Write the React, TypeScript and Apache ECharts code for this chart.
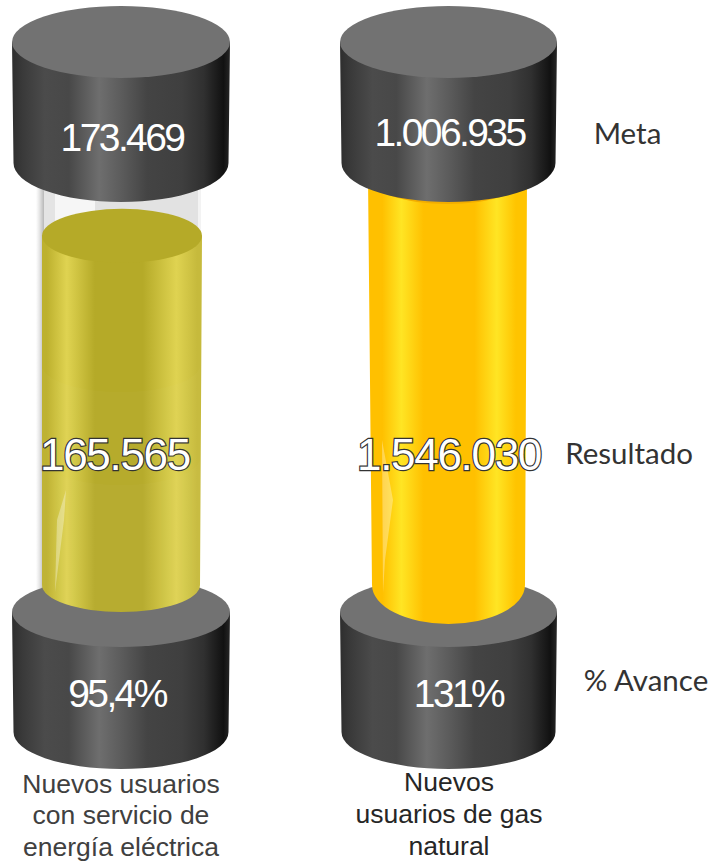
import React, { useEffect, useRef } from "react";
import * as echarts from "echarts";

// ---- data ----
const categories = ["Nuevos usuarios de energía", "Nuevos usuarios de gas"];
const progressPercent = [95.4, 131];
const metaLabels = ["173.469", "1.006.935"];
const resultLabels = ["165.565", "1.546.030"];
const progressLabels = ["95,4%", "131%"];
const nameLines = [
  ["Nuevos usuarios", "con servicio de", "energía eléctrica"],
  ["Nuevos", "usuarios de gas", "natural"],
];
const rowLabels = ["Meta", "Resultado", "% Avance"];

// ---- look ----
const W = 709;
const H = 863;
const looks = [
  {
    fillL: -79, fillR: 81, fillBL: -79, fillBR: 79, fillRy: 27, bottomRy: 27,
    base: "#b5aa28", bright: "#dfd351", topFill: "#b5aa28", edgeL: "#bdb12e", edgeR: "#c6ba3c",
    brightA: 0.155, baseA: 0.33, baseB: 0.63, brightB: 0.84, edgeA: 0.03, edgeB: 0.97,
    glint: [[66, 490], [64, 520], [55, 592], [57, 520]],
    seams: [365, 458],
    metaX: 122, metaY: 137, resX: 115, progX: 117, textCol: "#404040", nameYs: [784, 815, 847],
    capX: 121, capRx: 109,
  },
  {
    fillL: -81, fillR: 78, fillBL: -77, fillBR: 76, fillRy: 27, bottomRy: 39,
    base: "#ffc000", bright: "#ffe524", topFill: "#f2ad00", edgeL: "#ffc000", edgeR: "#ffc400",
    brightA: 0.21, baseA: 0.35, baseB: 0.67, brightB: 0.81, edgeA: 0.09, edgeB: 0.93,
    glint: [[382, 440], [393, 500], [385, 560], [383, 593]],
    seams: [],
    metaX: 449.5, metaY: 132, resX: 449, progX: 458.5, textCol: "#262626", nameYs: [782, 814, 846],
    capX: 448.5, capRx: 108.5,
  },
];

const ell = (cx: number, cy: number, rx: number, ry: number) =>
  `M${cx - rx} ${cy}A${rx} ${ry} 0 1 1 ${cx + rx} ${cy}A${rx} ${ry} 0 1 1 ${cx - rx} ${cy}Z`;

const side = (xl: number, xr: number, yTop: number, xbl: number, xbr: number, yBot: number, ry: number) =>
  `M${xl} ${yTop}L${xbl} ${yBot}A${(xbr - xbl) / 2} ${ry} 0 0 0 ${xbr} ${yBot}L${xr} ${yTop}Z`;

const band = (xl: number, xr: number, yTop: number, yBot: number, ry: number) =>
  `M${xl} ${yTop}A${(xr - xl) / 2} ${ry} 0 0 0 ${xr} ${yTop}L${xr} ${yBot}A${(xr - xl) / 2} ${ry} 0 0 1 ${xl} ${yBot}Z`;

const hGrad = (stops: [number, string][]) => ({
  type: "linear", x: 0, y: 0, x2: 1, y2: 0,
  colorStops: stops.map(([offset, color]) => ({ offset, color })),
});

const capGrad = hGrad([
  [0, "#2e2e2e"], [0.05, "#3a3a3a"], [0.15, "#4b4b4b"], [0.26, "#484848"], [0.4, "#6e6e6e"],
  [0.5, "#5c5c5c"], [0.62, "#444444"], [0.78, "#3f3f3f"], [0.88, "#303030"], [0.97, "#111111"], [1, "#262626"],
]);

const path = (d: string, fill: any) => ({ type: "path", shape: { pathData: d }, style: { fill } });

const cap = (cx: number, rx: number, yTop: number, topRy: number, yBot: number, botRy: number) => [
  path(side(cx - rx, cx + rx, yTop, cx - rx + 1.5, cx + rx - 1.5, yBot, botRy), capGrad),
  path(ell(cx, yTop, rx, topRy), "#727272"),
];

const numText = (text: string, x: number, y: number, size: number, outlined = false) => ({
  type: "text",
  style: {
    text, x, y, align: "center", verticalAlign: "middle",
    fontFamily: '"Liberation Sans", Arial, sans-serif',
    fontSize: size,
    fill: "#ffffff",
    ...(outlined ? { stroke: "#333333", lineWidth: 2.4 } : {}),
  },
});

export default function App() {
  const ref = useRef<HTMLDivElement>(null);
  useEffect(() => {
    const chart = echarts.init(ref.current!, null, { renderer: "svg", width: W, height: H });
    chart.setOption({
      animation: false,
      backgroundColor: "#ffffff",
      grid: { left: 121, width: 328, top: 36, height: 549 },
      xAxis: { type: "category", data: categories, show: false, boundaryGap: false },
      yAxis: { type: "value", min: 0, max: 150, show: false },
      graphic: rowLabels.map((text, i) => ({
        type: "text",
        x: [627.5, 629, 646][i],
        y: [132, 452, 679][i],
        style: {
          text, align: "center", verticalAlign: "middle",
          fontFamily: 'Lato, "Open Sans", sans-serif', fontSize: 29.5, fill: "#333333",
        },
      })),
      series: [
        {
          type: "custom",
          clip: false,
          coordinateSystem: "cartesian2d",
          data: categories.map((c, i) => [i, progressPercent[i]]),
          renderItem: (params: any, api: any) => {
            const i = params.dataIndex;
            const k = looks[i];
            const [cx, rawTop] = api.coord([api.value(0), api.value(1)]);
            const [, y0] = api.coord([api.value(0), 0]);
            const yTop = Math.max(rawTop, 177);
            const L = cx + k.fillL, R = cx + k.fillR;
            const fillGrad = hGrad([
              [0, k.edgeL], [k.edgeA, k.edgeL], [k.brightA, k.bright], [k.baseA, k.base],
              [k.baseB, k.base], [k.brightB, k.bright], [k.edgeB, k.edgeR], [1, k.edgeR],
            ]);
            const children: any[] = [];
            if (i === 0) {
              // empty glass above the liquid
              children.push({ type: "rect", shape: { x: 36, y: 185, width: 8, height: 405 },
                style: { fill: hGrad([[0, "#ffffff"], [0.4, "#e8e8e8"], [1, "#b8b8b8"]]) } });
              children.push({ type: "rect", shape: { x: 44, y: 185, width: 11, height: 60 }, style: { fill: "#e4e4e4" } });
              children.push({ type: "rect", shape: { x: 55, y: 185, width: 40, height: 60 }, style: { fill: "#f6f6f6" } });
              children.push({ type: "rect", shape: { x: 95, y: 185, width: 103, height: 60 }, style: { fill: "#e2e2e2" } });
              children.push({ type: "rect", shape: { x: 198, y: 185, width: 3, height: 60 }, style: { fill: "#f3f3f3" } });
            }
            // bottom cap sits under the liquid
            children.push(...cap(k.capX, k.capRx, 612, 35, 732, 37));
            // liquid column
            children.push(path(side(L, R, yTop, cx + k.fillBL, cx + k.fillBR, y0, k.bottomRy), fillGrad));
            children.push(path(ell((L + R) / 2, yTop, (R - L) / 2, k.fillRy), k.topFill));
            k.seams.forEach((y) => {
              children.push(path(band(cx + k.fillBL, cx + k.fillBR, y, y0, k.fillRy), "rgba(255,255,255,0.018)"));
            });
            children.push({
              type: "polygon", shape: { points: k.glint },
              style: { fill: "rgba(255,255,255,0.32)" },
            });
            // top cap
            children.push(...cap(k.capX, k.capRx, 42, 36, 163, 39));
            // texts
            children.push(numText(metaLabels[i], k.metaX, k.metaY, 39));
            children.push(numText(resultLabels[i], k.resX, 454, 44, true));
            children.push(numText(progressLabels[i], k.progX, 693, 39));
            nameLines[i].forEach((line, n) => {
              children.push({
                type: "text",
                style: {
                  text: line, x: cx, y: k.nameYs[n], align: "center", verticalAlign: "middle",
                  fontFamily: '"Liberation Sans", Arial, sans-serif', fontSize: 26.5, fill: k.textCol,
                },
              });
            });
            return { type: "group", children };
          },
        },
      ],
    });
    // the reference's numerals are set very tight
    ref.current!.querySelectorAll("text").forEach((t) => {
      const s = t.textContent || "";
      if (resultLabels.includes(s)) {
        t.style.letterSpacing = "-1.3px";
      } else if (metaLabels.includes(s) || progressLabels.includes(s)) {
        t.style.letterSpacing = "-2.6px";
      }
    });
    return () => chart.dispose();
  }, []);
  return <div ref={ref} style={{ position: "fixed", left: 0, top: 0, width: W, height: H }} />;
}
